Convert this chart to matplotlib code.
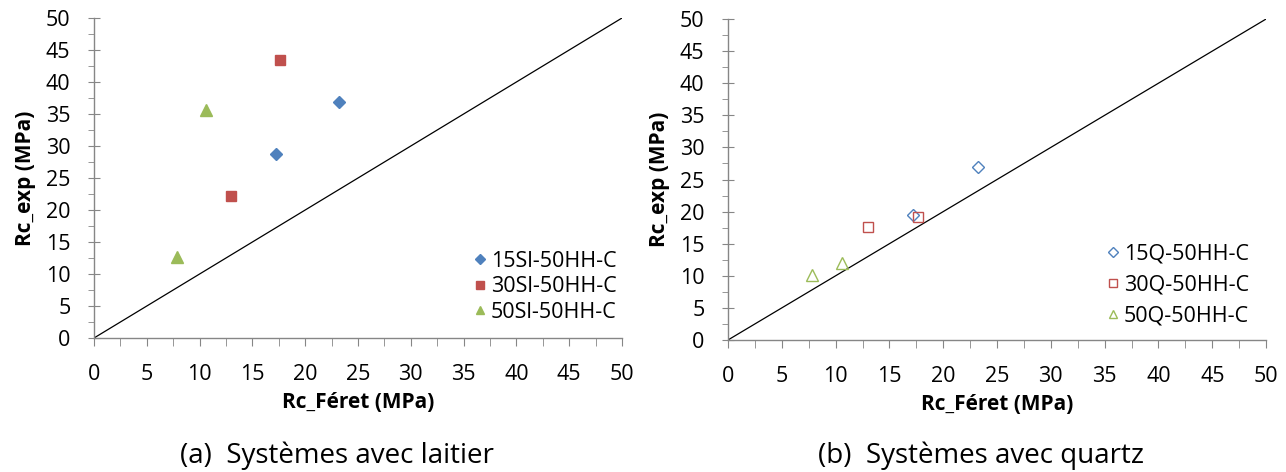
import matplotlib.pyplot as plt
from matplotlib.ticker import MultipleLocator

plt.rcParams['font.family'] = ['Open Sans', 'DejaVu Sans']

# Left panel: systems with slag (filled markers)
sl_labels = ['15Sl-50HH-C', '30Sl-50HH-C', '50Sl-50HH-C']
sl_feret = [[17.2, 23.2], [13.0, 17.6], [7.9, 10.6]]
sl_exp = [[28.7, 36.8], [22.2, 43.4], [12.6, 35.6]]

# Right panel: systems with quartz (open markers)
q_labels = ['15Q-50HH-C', '30Q-50HH-C', '50Q-50HH-C']
q_feret = [[17.2, 23.2], [13.0, 17.7], [7.8, 10.6]]
q_exp = [[19.5, 27.0], [17.6, 19.2], [10.2, 12.0]]

colors = ['#4F81BD', '#C0504D', '#9BBB59']
markers = ['D', 's', '^']
sizes = [6.5, 7.3, 8.5]

fig = plt.figure(figsize=(12.86, 4.72), dpi=100)
ax1 = fig.add_axes([0.0731, 0.2839, 0.4106, 0.678])
ax2 = fig.add_axes([0.5661, 0.2797, 0.4184, 0.680])


def style_axes(ax):
    ax.set_xlim(0, 50)
    ax.set_ylim(0, 50)
    ax.plot([0, 50], [0, 50], color='black', lw=0.9, zorder=1)
    ax.xaxis.set_major_locator(MultipleLocator(5))
    ax.yaxis.set_major_locator(MultipleLocator(5))
    ax.xaxis.set_minor_locator(MultipleLocator(2.5))
    ax.yaxis.set_minor_locator(MultipleLocator(2.5))
    for s in ['top', 'right']:
        ax.spines[s].set_visible(False)
    for s in ['left', 'bottom']:
        ax.spines[s].set_color('#868686')
        ax.spines[s].set_linewidth(1.0)
    ax.tick_params(axis='y', which='major', direction='inout', length=8,
                   color='#868686', labelsize=15.5, pad=13)
    ax.tick_params(axis='y', which='minor', direction='out', length=4,
                   color='#868686')
    ax.tick_params(axis='x', which='both', direction='out', length=6,
                   color='#868686', labelsize=15.5, pad=13)
    ax.set_xlabel('Rc_Féret (MPa)', fontsize=15, fontweight='bold', labelpad=5)
    ax.set_ylabel('Rc_exp (MPa)', fontsize=15, fontweight='bold', labelpad=7)


style_axes(ax1)
for lab, x, y, c, m, ms in zip(sl_labels, sl_feret, sl_exp, colors, markers, sizes):
    ax1.plot(x, y, ls='none', marker=m, ms=ms, color=c, label=lab, zorder=3)
ax1.legend(loc='center left', bbox_to_anchor=(0.715, 0.16), frameon=False,
           fontsize=15.5, handletextpad=0.1, handlelength=0.8, markerscale=0.75,
           borderaxespad=0, borderpad=0, labelspacing=0.2)

style_axes(ax2)
for lab, x, y, c, m, ms in zip(q_labels, q_feret, q_exp, colors, markers, sizes):
    ax2.plot(x, y, ls='none', marker=m, ms=ms, markerfacecolor='none',
             markeredgecolor=c, markeredgewidth=1.0, label=lab, zorder=3)
ax2.legend(loc='center left', bbox_to_anchor=(0.7, 0.171), frameon=False,
           fontsize=15.5, handletextpad=0.1, handlelength=0.8, markerscale=0.75,
           borderaxespad=0, borderpad=0, labelspacing=0.45)

fig.text(0.262, 0.019, '(a)  Systèmes avec laitier', ha='center', va='baseline', fontsize=20)
fig.text(0.763, 0.019, '(b)  Systèmes avec quartz', ha='center', va='baseline', fontsize=20)

fig.savefig('out.png', dpi=100)
